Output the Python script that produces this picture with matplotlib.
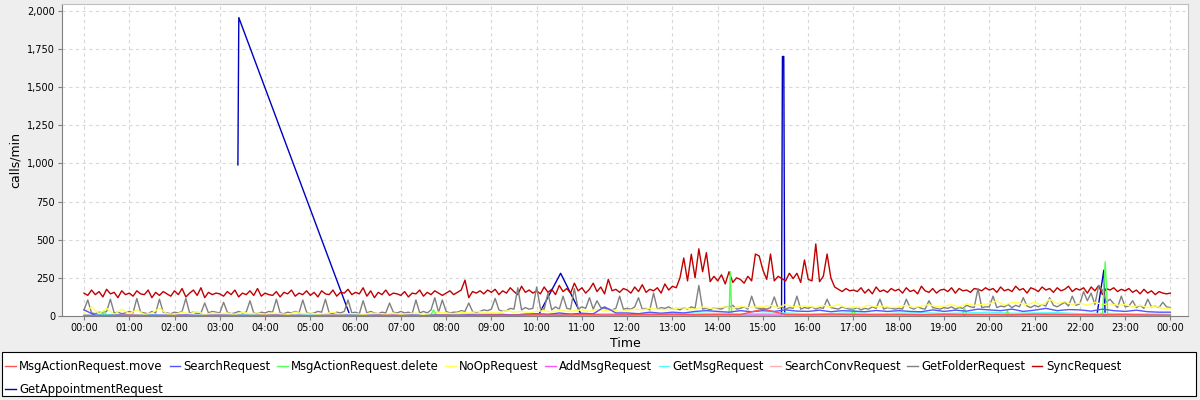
import numpy as np
import matplotlib
matplotlib.use("Agg")
import matplotlib.pyplot as plt
from matplotlib.patches import Rectangle

# series values (calls/min), one row per hour
sync_5min = [
    150, 135, 170, 140, 160, 125, 175, 145, 155, 120, 165, 140,
    150, 130, 165, 145, 140, 170, 120, 155, 135, 160, 145, 130,
    165, 140, 180, 125, 150, 170, 135, 185, 120, 155, 140, 150,
    145, 130, 160, 140, 170, 125, 150, 140, 165, 135, 180, 130,
    150, 140, 135, 160, 125, 155, 145, 170, 130, 150, 140, 165,
    135, 155, 125, 165, 145, 140, 170, 130, 155, 150, 175, 140,
    155, 145, 185, 130, 165, 120, 155, 140, 170, 135, 150, 145,
    135, 160, 125, 150, 145, 170, 130, 155, 140, 165, 150, 135,
    150, 165, 140, 155, 170, 235, 120, 160, 150, 165, 145, 170,
    155, 175, 140, 165, 150, 185, 160, 140, 195, 155, 170, 150,
    165, 145, 190, 155, 175, 140, 200, 160, 180, 150, 215, 165,
    185, 150, 175, 215, 160, 190, 145, 240, 165, 175, 155, 180,
    170, 150, 190, 160, 205, 155, 175, 165, 185, 150, 210, 170,
    195, 185, 250, 380, 230, 405, 250, 440, 290, 415, 225, 260,
    230, 270, 210, 290, 220, 250, 240, 215, 260, 230, 406, 393,
    300, 240, 406, 230, 260, 245, 230, 280, 245, 280, 220, 367,
    240, 230, 472, 225, 260, 406, 250, 190, 175, 160, 180, 165,
    170, 160, 185, 150, 175, 145, 190, 160, 170, 155, 180, 165,
    175, 150, 185, 160, 170, 145, 195, 165, 155, 180, 150, 170,
    175, 160, 185, 150, 180, 165, 170, 155, 180, 175, 165, 185,
    170, 180, 155, 190, 165, 175, 160, 195, 170, 180, 150, 185,
    175, 160, 190, 170, 180, 155, 185, 165, 175, 195, 160, 180,
    170, 185, 150, 190, 165, 200, 140, 180, 170, 185, 160, 175,
    165, 180, 155, 170, 145, 175, 150, 165, 140, 160, 150, 145,
    150,
]
getfolder_5min = [
    40, 105, 20, 15, 25, 20, 30, 110, 20, 25, 15, 20,
    30, 20, 115, 25, 20, 15, 30, 20, 110, 25, 20, 15,
    25, 20, 30, 115, 20, 25, 15, 20, 85, 20, 30, 25,
    20, 90, 25, 15, 20, 30, 20, 25, 100, 20, 15, 25,
    20, 30, 25, 110, 20, 15, 25, 20, 30, 20, 105, 25,
    15, 20, 30, 25, 110, 20, 15, 25, 20, 30, 105, 20,
    25, 15, 100, 20, 30, 20, 15, 25, 20, 85, 25, 20,
    30, 20, 25, 15, 105, 20, 30, 20, 40, 120, 25, 105,
    30, 20, 25, 25, 35, 30, 85, 30, 25, 30, 40, 35,
    45, 115, 40, 30, 35, 50, 45, 185, 40, 55, 45, 50,
    190, 50, 45, 150, 40, 60, 45, 130, 50, 45, 180, 45,
    60, 50, 120, 45, 100, 55, 50, 45, 40, 50, 130, 45,
    50, 45, 60, 120, 45, 50, 40, 150, 45, 55, 50, 60,
    45, 50, 40, 55, 45, 60, 50, 200, 45, 50, 40, 55,
    50, 45, 60, 55, 70, 45, 50, 60, 45, 130, 55, 50,
    50, 45, 55, 125, 50, 60, 45, 55, 50, 130, 45, 55,
    50, 60, 45, 55, 50, 110, 55, 50, 45, 60, 50, 45,
    45, 55, 40, 50, 45, 60, 50, 110, 45, 55, 50, 45,
    50, 45, 110, 55, 45, 60, 50, 45, 100, 55, 50, 45,
    55, 50, 60, 45, 55, 50, 70, 60, 55, 180, 55, 60,
    60, 130, 55, 65, 60, 75, 55, 70, 60, 120, 65, 55,
    70, 60, 75, 65, 120, 70, 60, 75, 90, 65, 130, 70,
    80, 160, 100, 150, 75, 200, 170, 90, 110, 80, 55, 130,
    60, 65, 100, 55, 70, 50, 110, 60, 65, 55, 90, 60,
    55,
]
noop_10min = [
    20, 60, 15, 50, 10, 45,
    15, 40, 10, 20, 50, 15,
    10, 25, 15, 30, 10, 20,
    15, 20, 10, 25, 15, 20,
    10, 20, 15, 10, 25, 15,
    20, 10, 15, 25, 10, 15,
    15, 10, 20, 15, 10, 20,
    10, 15, 20, 10, 15, 25,
    20, 15, 25, 20, 30, 25,
    25, 20, 35, 25, 30, 20,
    30, 35, 25, 40, 30, 35,
    40, 30, 45, 35, 40, 30,
    35, 45, 40, 50, 45, 40,
    45, 55, 50, 45, 60, 50,
    55, 60, 50, 65, 55, 60,
    60, 70, 55, 75, 60, 65,
    65, 55, 70, 60, 75, 55,
    60, 55, 70, 60, 65, 55,
    60, 70, 55, 65, 75, 60,
    65, 75, 60, 80, 70, 75,
    80, 100, 70, 90, 85, 75,
    90, 70, 110, 80, 95, 75,
    85, 70, 90, 75, 80, 70,
    75, 60, 70, 55, 65, 50,
    50,
]
search_15min = [
    40, 5, 3, 6, 4, 2, 5, 3, 3, 6, 2, 4, 5, 3, 4, 2,
    3, 5, 2, 4, 2, 4, 3, 5, 4, 2, 5, 3, 3, 5, 2, 6,
    5, 4, 8, 6, 8, 10, 6, 12, 15, 10, 20, 12, 18, 14, 60, 20,
    20, 15, 25, 18, 25, 20, 30, 35, 30, 25, 35, 28, 35, 30, 40, 32,
    30, 38, 28, 35, 32, 28, 36, 30, 35, 30, 28, 40, 30, 38, 32, 45,
    40, 35, 45, 30, 38, 50, 35, 42, 40, 32, 45, 35, 30, 38, 28, 25,
    25,
]
getmsg_30min = [
    5, 10, 3, 8, 4, 6, 3, 7, 5, 4, 6, 3, 8, 5, 4, 6, 7, 10, 12, 8,
    14, 10, 12, 15, 10, 18, 14, 20, 15, 12, 18, 20, 14, 16, 20, 15,
    18, 22, 16, 20, 25, 18, 20, 22, 15, 18, 14, 12, 10,
]
searchconv_30min = [
    8, 5, 10, 6, 8, 5, 7, 9, 6, 8, 5, 7, 6, 8, 10, 7, 9, 12, 10, 8,
    12, 15, 10, 14, 12, 10, 15, 12, 18, 14, 12, 15, 13, 10, 14, 12,
    15, 12, 10, 14, 12, 16, 13, 18, 12, 14, 10, 12, 10,
]
addmsg_60min = [3, 2, 4, 2, 3, 2, 3, 4, 3, 4, 5, 4, 5, 6, 5, 6, 5, 4, 5, 6, 5, 6, 5, 4, 3]
move_30min = [
    3, 2, 4, 2, 3, 2, 3, 2, 4, 3, 2, 3, 2, 4, 3, 2, 5, 4, 6, 5,
    8, 6, 10, 7, 8, 10, 12, 8, 10, 9, 45, 10, 8, 12, 10, 8,
    10, 8, 12, 9, 10, 8, 12, 10, 9, 8, 10, 7, 6,
]
delete_hours = [0, 0.40, 0.45, 0.50, 7.65, 7.72, 7.80, 14.25, 14.28, 14.31,
                16.95, 17.00, 17.05, 19.40, 19.45, 19.50, 20.35, 20.40, 20.45,
                22.50, 22.56, 22.62, 24]
delete_vals = [0, 0, 30, 0, 0, 40, 0, 0, 290, 0, 0, 50, 0, 0, 55, 0, 0, 35, 0,
               0, 355, 0, 0]
appt_hours = [3.40, 3.42, 5.88, 10.03, 10.53, 11.00, 15.41, 15.43, 15.46,
              15.48, 22.38, 22.53, 22.56]
appt_vals = [990, 1955, 0, 0, 280, 0, 0, 1700, 1700, 0, 10, 300, 0]

hour_labels = ["%02d:00" % (h % 24) for h in range(25)]


def grid(n, step_min):
    return np.arange(n) * step_min / 60.0


series = [
    ("MsgActionRequest.move", grid(len(move_30min), 30), move_30min, "#FF5555"),
    ("SearchRequest", grid(len(search_15min), 15), search_15min, "#5555FF"),
    ("MsgActionRequest.delete", delete_hours, delete_vals, "#55FF55"),
    ("NoOpRequest", grid(len(noop_10min), 10), noop_10min, "#FFFF55"),
    ("AddMsgRequest", grid(len(addmsg_60min), 60), addmsg_60min, "#FF55FF"),
    ("GetMsgRequest", grid(len(getmsg_30min), 30), getmsg_30min, "#55FFFF"),
    ("SearchConvRequest", grid(len(searchconv_30min), 30), searchconv_30min, "#FFAFAF"),
    ("GetFolderRequest", grid(len(getfolder_5min), 5), getfolder_5min, "#808080"),
    ("SyncRequest", grid(len(sync_5min), 5), sync_5min, "#C00000"),
    ("GetAppointmentRequest", appt_hours, appt_vals, "#0000C0"),
]

fig = plt.figure(figsize=(12, 4), dpi=100, facecolor="#EEEEEE")
ax = fig.add_axes([62 / 1200, 84 / 400, 1126 / 1200, 312 / 400])
ax.set_facecolor("white")

handles = {}
n = len(series)
for i, (name, x, y, col) in enumerate(series):
    ln, = ax.plot(x, y, color=col, lw=1.0, label=name, zorder=2 + (n - i) * 0.1)
    handles[name] = ln

ax.set_xlim(-0.486, 24.39)
ax.set_ylim(0, 2044)
ax.set_xticks(range(25))
ax.set_xticklabels(hour_labels)
ax.set_yticks(range(0, 2001, 250))
ax.yaxis.set_major_formatter(matplotlib.ticker.FuncFormatter(lambda v, p: f"{int(v):,}"))
ax.tick_params(labelsize=7, length=3, width=0.8, color="#808080", pad=2)
ax.grid(True, color="#D8D8D8", linestyle=(0, (3, 3)), lw=0.8)
ax.set_axisbelow(True)
for s in ["top", "right"]:
    ax.spines[s].set_color("#C0C0C0")
for s in ["left", "bottom"]:
    ax.spines[s].set_color("#808080")
ax.set_xlabel("Time", fontsize=9, labelpad=3)
ax.set_ylabel("calls/min", fontsize=9, labelpad=4)

# legend box spanning the bottom
fig.patches.append(Rectangle((2 / 1200, 4 / 400), 1194 / 1200, 44 / 400,
                             transform=fig.transFigure, facecolor="white",
                             edgecolor="black", lw=0.8, zorder=0))
order = ["MsgActionRequest.move", "GetAppointmentRequest", "SearchRequest",
         "MsgActionRequest.delete", "NoOpRequest", "AddMsgRequest", "GetMsgRequest",
         "SearchConvRequest", "GetFolderRequest", "SyncRequest"]
fig.legend([handles[k] for k in order], order, loc="upper left",
           bbox_to_anchor=(3 / 1200, 1 - 358 / 400), ncol=9, frameon=False,
           fontsize=8.4, handlelength=0.9, handletextpad=0.3, columnspacing=0.55,
           labelspacing=0.85, borderpad=0.2, borderaxespad=0)

fig.savefig("out.png", dpi=100, facecolor=fig.get_facecolor())
